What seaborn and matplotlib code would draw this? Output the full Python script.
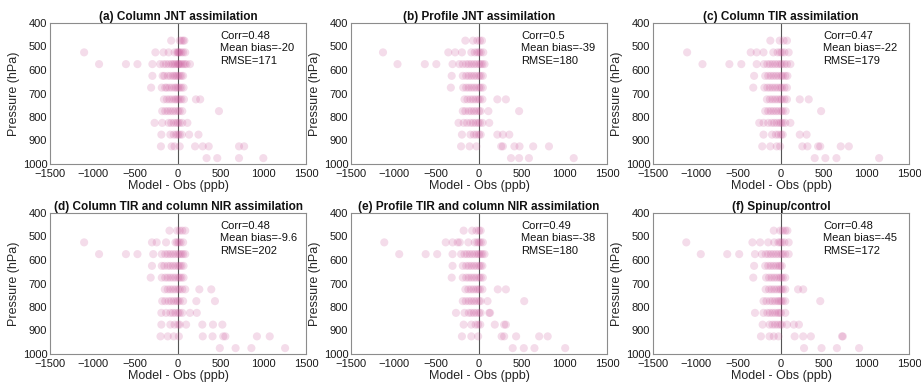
import numpy as np
import pandas as pd
import matplotlib
matplotlib.use("Agg")
import matplotlib.pyplot as plt
import seaborn as sns

levels = [475, 525, 575, 625, 675, 725, 775, 825, 875, 925, 975]

titles = ["(a) Column JNT assimilation", "(b) Profile JNT assimilation",
          "(c) Column TIR assimilation", "(d) Column TIR and column NIR assimilation",
          "(e) Profile TIR and column NIR assimilation", "(f) Spinup/control"]
corr = ["0.48", "0.5", "0.47", "0.48", "0.49", "0.48"]
bias = ["-20", "-39", "-22", "-9.6", "-38", "-45"]
rmse = ["171", "180", "179", "202", "180", "172"]

panel_a = [
    [-80, 20, 40, 60, 75],
    [-1100, -265, -170, -110, -40, -10, 0, 10, 20, 40, 60, 85],
    [-925, -610, -475, -300, -210, -170, -140, -110, -80, -60, -40, -20, 0, 10, 20, 40, 60, 80, 100, 140],
    [-300, -180, -160, -120, -90, -60, -40, -20, 0, 20, 40, 60],
    [-315, -190, -150, -130, -100, -70, -40, -20, 0, 20, 40, 65],
    [-165, -130, -100, -70, -40, -20, 0, 20, 40, 70, 210, 260],
    [-185, -150, -120, -90, -60, -30, 0, 20, 50, 480],
    [-275, -185, -110, -80, -50, -20, 0, 20, 50, 110],
    [-195, -90, -50, -20, 0, 20, 45, 130, 240],
    [-200, -75, -40, 20, 200, 290, 360, 715, 775],
    [335, 460, 715, 1000],
]
panel_b = [
    [-160, -70, -20, 10, 35],
    [-1125, -360, -280, -200, -90, -50, -20, 0, 20, 50],
    [-955, -635, -500, -310, -230, -190, -150, -120, -90, -60, -30, 0, 20, 40, 65],
    [-320, -190, -150, -120, -90, -60, -30, 0, 20, 45],
    [-330, -185, -150, -120, -90, -60, -30, 0, 20, 45],
    [-170, -135, -100, -70, -40, -10, 10, 40, 215, 315],
    [-190, -160, -120, -90, -60, -30, 0, 20, 110, 470],
    [-240, -180, -140, -100, -70, -40, -10, 10, 40, 120],
    [-200, -100, -60, -30, 0, 20, 215, 280, 355],
    [-210, -110, -30, 260, 280, 415, 475, 635, 820],
    [375, 470, 585, 1110],
]
panel_c = [
    [-125, -15, 30, 70],
    [-1100, -355, -285, -205, -90, -40, -10, 10, 40, 90],
    [-920, -605, -465, -285, -200, -160, -130, -100, -70, -40, -10, 10, 40, 70, 110],
    [-315, -185, -150, -120, -90, -60, -30, 0, 20, 50, 75],
    [-325, -195, -160, -130, -100, -70, -40, -10, 10, 40, 70],
    [-165, -130, -100, -70, -40, -10, 10, 40, 70, 220, 325],
    [-185, -150, -120, -90, -60, -30, 0, 20, 55, 470],
    [-255, -205, -150, -110, -80, -50, -20, 0, 20, 50, 110],
    [-205, -105, -60, -30, 0, 20, 220, 300],
    [-220, -125, -50, -10, 250, 310, 435, 460, 700, 795],
    [395, 520, 650, 1150],
]
panel_d = [
    [-100, -10, 20, 50, 85],
    [-1100, -305, -250, -140, -30, -10, 10, 30, 60],
    [-925, -610, -475, -290, -190, -150, -120, -90, -60, -30, 0, 20, 40, 60, 85],
    [-305, -190, -160, -120, -90, -60, -30, 0, 20, 40, 65],
    [-320, -190, -150, -120, -90, -60, -30, 0, 20, 40, 65],
    [-155, -120, -90, -60, -30, 0, 20, 50, 85, 250, 390],
    [-185, -150, -110, -80, -50, -20, 0, 20, 60, 215, 433],
    [-195, -140, -90, -60, -30, 0, 20, 50, 140, 220],
    [-195, -90, -40, 0, 20, 95, 285, 410, 520],
    [-205, -120, -50, 10, 290, 405, 530, 555, 925, 1075],
    [490, 675, 860, 1255],
]
panel_e = [
    [-180, -80, -30, 0, 20],
    [-1110, -390, -310, -250, -225, -125, -50, -20, 0, 20, 45],
    [-935, -625, -490, -310, -210, -170, -140, -110, -80, -50, -20, 0, 20, 40, 65],
    [-310, -190, -150, -120, -90, -60, -30, 0, 20, 40],
    [-320, -190, -150, -120, -90, -60, -30, 0, 20, 45],
    [-160, -125, -95, -65, -35, -10, 10, 40, 220, 315],
    [-190, -155, -120, -90, -60, -30, 0, 20, 100, 530],
    [-270, -170, -120, -90, -60, -30, 0, 20, 120, 130],
    [-180, -90, -40, -10, 15, 185, 295, 315],
    [-200, -90, -10, 265, 295, 435, 705, 805],
    [395, 525, 650, 1010],
]
panel_f = [
    [-85, -10, 20, 50, 75],
    [-1110, -335, -245, -150, -80, -30, -10, 10, 40, 90],
    [-940, -630, -490, -305, -225, -180, -150, -120, -90, -60, -30, 0, 20, 50, 90],
    [-315, -185, -150, -120, -90, -60, -30, -10, 10],
    [-325, -175, -140, -110, -80, -50, -20, 0, 20, 50],
    [-180, -140, -110, -80, -50, -20, 0, 20, 50, 200, 260],
    [-205, -170, -130, -100, -70, -40, -20, 0, 20, 50, 460],
    [-305, -205, -160, -130, -100, -70, -40, -20, 0, 50],
    [-215, -135, -100, -70, -40, -10, 10, 70, 150, 210],
    [-235, -135, -85, -30, 160, 260, 350, 715, 725],
    [270, 475, 655, 915],
]
panels = [panel_a, panel_b, panel_c, panel_d, panel_e, panel_f]

sns.set_style("white")
plt.rcParams['font.family'] = ['Liberation Sans', 'DejaVu Sans']

fig = plt.figure(figsize=(9.21, 3.89), dpi=100)
lefts = [50, 351, 653]
tops = [23, 213]
W, H = 921, 389
aw, ah = 256, 141

for i, pdata in enumerate(panels):
    r, c = divmod(i, 3)
    ax = fig.add_axes([lefts[c] / W, 1 - (tops[r] + ah) / H, aw / W, ah / H])
    rows = []
    for lev, xs in zip(levels, pdata):
        for x in xs:
            rows.append((x, lev))
    df = pd.DataFrame(rows, columns=["diff", "pressure"])
    ax.axvline(0, color="#555555", lw=0.8, zorder=1)
    sns.scatterplot(data=df, x="diff", y="pressure", ax=ax, color="#c85096",
                    alpha=0.2, s=34, edgecolor="none", linewidth=0, zorder=2)
    ax.set_xlim(-1500, 1500)
    ax.set_ylim(1000, 400)
    ax.set_xticks(np.arange(-1500, 1501, 500))
    ax.set_yticks(np.arange(400, 1001, 100))
    ax.tick_params(direction="in", length=2.5, labelsize=8, color="#888888",
                   labelcolor="#1a1a1a")
    ax.tick_params(axis="x", pad=3.5)
    ax.tick_params(axis="y", pad=2)
    for sp in ax.spines.values():
        sp.set_color("#8c8c8c")
        sp.set_linewidth(0.8)
    ax.set_xlabel("Model - Obs (ppb)", fontsize=9, color="#262626", labelpad=0.5)
    ax.set_ylabel("Pressure (hPa)", fontsize=9, color="#262626", labelpad=2)
    ax.set_title(titles[i], fontsize=8.5, fontweight="bold", pad=2, color="#111111")
    ax.text(0.665, 0.945, f"Corr={corr[i]}\nMean bias={bias[i]}\nRMSE={rmse[i]}",
            transform=ax.transAxes, ha="left", va="top", fontsize=8,
            linespacing=1.3, color="#111111")

fig.savefig("out.png", dpi=100)
